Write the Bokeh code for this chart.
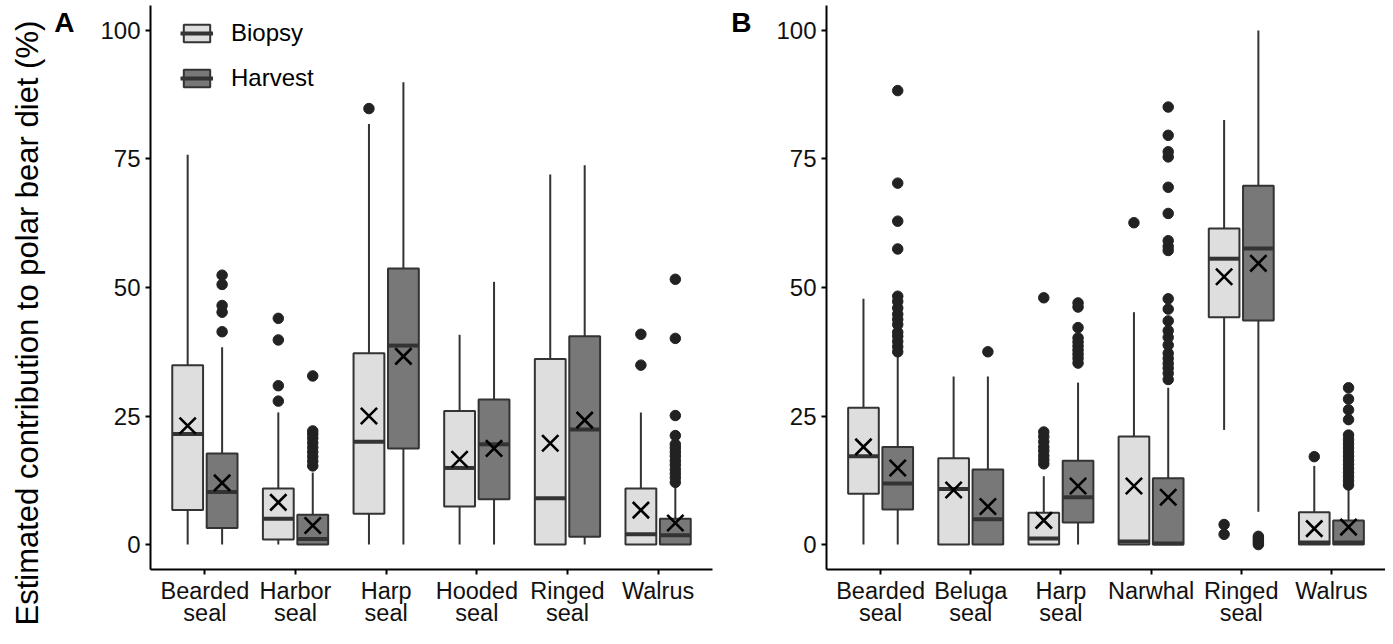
import numpy as np
from bokeh.plotting import figure
from bokeh.layouts import row
from bokeh.models import (ColumnDataSource, FixedTicker, Legend, LegendItem, Range1d,
                          LinearAxis, Title)
from bokeh.embed import file_html
from bokeh.resources import INLINE

FONT = "Liberation Sans"

# ---------------- data: panel A ----------------
cats_a = ["Bearded\nseal", "Harbor\nseal", "Harp\nseal", "Hooded\nseal", "Ringed\nseal", "Walrus"]

a_bio_lo = [0, 0, 0, 0, 0, 0]
a_bio_q1 = [6.7, 1.0, 6.0, 7.4, 0.0, 0.0]
a_bio_med = [21.5, 5.0, 20.0, 14.9, 9.0, 2.0]
a_bio_q3 = [34.9, 10.9, 37.2, 26.0, 36.1, 10.9]
a_bio_hi = [75.8, 25.7, 81.8, 40.8, 72.0, 25.7]
a_bio_mean = [23.1, 8.2, 25.0, 16.6, 19.7, 6.7]
a_bio_out = [[], [27.9, 30.9, 39.8, 44.0], [84.8], [], [], [34.9, 40.9]]

a_har_lo = [0, 0, 0, 0, 0, 0]
a_har_q1 = [3.2, 0.0, 18.7, 8.8, 1.5, 0.0]
a_har_med = [10.2, 1.1, 38.7, 19.5, 22.4, 1.8]
a_har_q3 = [17.7, 5.8, 53.7, 28.2, 40.5, 5.0]
a_har_hi = [38.4, 14.0, 89.9, 51.1, 73.8, 11.3]
a_har_mean = [12.0, 3.7, 36.6, 18.7, 24.2, 4.2]
a_har_out = [[41.4, 45.2, 46.5, 50.6, 52.4],
             [15.3, 16.2, 17.1, 18.0, 18.9, 19.8, 20.7, 21.5, 22.1, 32.8],
             [], [], [],
             [12.1, 13.0, 13.8, 14.6, 15.5, 16.3, 17.2, 18.0, 18.8, 19.5, 21.2, 25.1, 40.1, 51.6]]

# ---------------- data: panel B ----------------
cats_b = ["Bearded\nseal", "Beluga\nseal", "Harp\nseal", "Narwhal", "Ringed\nseal", "Walrus"]

b_bio_lo = [0, 0, 0, 0, 22.3, 0]
b_bio_q1 = [9.9, 0, 0, 0, 44.2, 0]
b_bio_med = [17.2, 10.8, 1.2, 0.6, 55.6, 0.4]
b_bio_q3 = [26.6, 16.8, 6.2, 21.0, 61.5, 6.3]
b_bio_hi = [47.8, 32.7, 13.3, 45.2, 82.6, 15.3]
b_bio_mean = [19.0, 10.6, 4.7, 11.4, 52.1, 3.1]
b_bio_out = [[], [], [15.7, 16.5, 17.3, 18.2, 19.0, 20.0, 21.0, 21.9, 48.0], [62.6], [2.0, 3.9], [17.1]]

b_har_lo = [0, 0, 0, 0, 6.4, 0]
b_har_q1 = [6.8, 0, 4.3, 0, 43.6, 0]
b_har_med = [11.9, 4.9, 9.2, 0.2, 57.6, 0.4]
b_har_q3 = [19.0, 14.6, 16.3, 12.9, 69.8, 4.7]
b_har_hi = [37.2, 32.7, 31.5, 30.5, 100.0, 11.0]
b_har_mean = [14.9, 7.4, 11.4, 9.2, 54.7, 3.4]
b_har_out = [[37.5, 38.5, 39.5, 40.5, 41.3, 42.8, 43.8, 44.8, 46.0, 47.3, 48.3, 57.5, 62.9, 70.3, 88.3],
             [37.5],
             [35.3, 36.2, 37.0, 37.8, 38.6, 39.4, 40.2, 42.2, 46.2, 47.0],
             [32.1, 33.3, 34.3, 35.2, 36.2, 37.2, 38.8, 40.3, 41.6, 43.5, 45.8, 47.8,
              57.2, 58.0, 59.1, 64.4, 69.5, 75.4, 76.4, 79.6, 85.1],
             [0.0, 0.4, 0.8, 1.2, 1.6],
             [11.6, 12.4, 13.2, 14.0, 14.8, 15.6, 16.4, 17.2, 18.0, 18.8, 19.6, 20.4, 21.3,
              24.3, 26.2, 28.3, 30.5]]

y_ticks = [0, 25, 50, 75, 100]
groups = ["Biopsy", "Harvest"]
y_title = "Estimated contribution to polar bear diet (%)"

# ---------------- style ----------------
FILL = {"Biopsy": "#dedede", "Harvest": "#787878"}
EDGE = "#333333"
DODGE = 0.19
BOXW = 0.34
H = 628
FRAME_W = 566
X0, X1 = 0.4, 6.6
Y0, Y1 = -4.85, 104.85
LETTER_Y = 101.6
XLAB = "23.5px"


def draw_series(p, lo, q1, med, q3, hi, mean, outs, offset, group):
    xs = [i + 1 + offset for i in range(len(med))]
    src = ColumnDataSource(dict(x=xs, left=[x - BOXW / 2 for x in xs], right=[x + BOXW / 2 for x in xs],
                                lo=lo, q1=q1, med=med, q3=q3, hi=hi, mean=mean))
    p.segment(x0="x", x1="x", y0="lo", y1="q1", source=src, line_color=EDGE, line_width=2)
    p.segment(x0="x", x1="x", y0="q3", y1="hi", source=src, line_color=EDGE, line_width=2)
    box = p.quad(left="left", right="right", bottom="q1", top="q3", source=src,
                 fill_color=FILL[group], line_color=EDGE, line_width=2)
    medr = p.segment(x0="left", x1="right", y0="med", y1="med", source=src,
                     line_color=EDGE, line_width=4)
    ox, oy = [], []
    for x, vals in zip(xs, outs):
        for v in vals:
            ox.append(x)
            oy.append(v)
    p.scatter(ox, oy, marker="circle", size=10.5, fill_color="#222222", line_color="#222222")
    p.scatter(x="x", y="mean", source=src, marker="x", size=23, line_color="black", line_width=2.6)
    return box, medr


def style_axis(ax, size="24px"):
    ax.axis_line_width = 2
    ax.axis_line_color = "black"
    ax.major_tick_line_width = 2
    ax.major_tick_line_color = "black"
    ax.major_tick_out = 5
    ax.major_tick_in = 0
    ax.minor_tick_out = 0
    ax.minor_tick_in = 0
    ax.major_label_text_font = FONT
    ax.major_label_text_font_size = size
    ax.major_label_text_color = "#111111"


def bare_axis(ax):
    ax.axis_line_color = None
    ax.major_tick_line_color = None
    ax.minor_tick_line_color = None
    ax.major_tick_out = 0
    ax.major_tick_in = 0
    ax.minor_tick_out = 0
    ax.minor_tick_in = 0
    ax.major_label_text_font = FONT


def make_panel(cats, series, width, border_left, letter, letter_standoff):
    p = figure(width=width, height=H, output_backend="svg", toolbar_location=None,
               x_range=Range1d(X0, X1), y_range=Range1d(Y0, Y1),
               min_border_left=border_left, min_border_right=width - border_left - FRAME_W,
               min_border_top=5, min_border_bottom=56)
    p.xgrid.visible = False
    p.ygrid.visible = False
    p.outline_line_color = None
    p.background_fill_color = "white"
    p.border_fill_color = "white"

    ticks = list(range(1, len(cats) + 1))
    line1 = {t: c.split("\n")[0] for t, c in zip(ticks, cats)}
    line2 = {t: (c.split("\n")[1] if "\n" in c else " ") for t, c in zip(ticks, cats)}

    style_axis(p.xaxis[0], XLAB)
    style_axis(p.yaxis[0])
    p.xaxis.ticker = FixedTicker(ticks=ticks)
    p.xaxis.major_label_overrides = line1
    p.xaxis.major_label_standoff = 3
    p.yaxis.ticker = FixedTicker(ticks=y_ticks)
    p.yaxis.major_label_standoff = 5

    # second line of the category labels
    x2 = LinearAxis(ticker=FixedTicker(ticks=ticks), major_label_overrides=line2)
    bare_axis(x2)
    x2.major_label_standoff = -7
    x2.major_label_text_font_size = XLAB
    x2.major_label_text_color = "#111111"
    p.add_layout(x2, "below")

    # panel letter, drawn as the single label of an extra (invisible) axis
    lab = LinearAxis(ticker=FixedTicker(ticks=[LETTER_Y]),
                     major_label_overrides={LETTER_Y: letter})
    bare_axis(lab)
    lab.major_label_standoff = letter_standoff
    lab.major_label_text_font_size = "28px"
    lab.major_label_text_font_style = "bold"
    lab.major_label_text_color = "black"
    p.add_layout(lab, "left")

    handles = {}
    for (group, offset, vals) in series:
        handles[group] = draw_series(p, *vals, offset, group)
    return p, handles


series_a = [("Biopsy", -DODGE, (a_bio_lo, a_bio_q1, a_bio_med, a_bio_q3, a_bio_hi, a_bio_mean, a_bio_out)),
            ("Harvest", DODGE, (a_har_lo, a_har_q1, a_har_med, a_har_q3, a_har_hi, a_har_mean, a_har_out))]
series_b = [("Biopsy", -DODGE, (b_bio_lo, b_bio_q1, b_bio_med, b_bio_q3, b_bio_hi, b_bio_mean, b_bio_out)),
            ("Harvest", DODGE, (b_har_lo, b_har_q1, b_har_med, b_har_q3, b_har_hi, b_har_mean, b_har_out))]

WA = 728
WB = 657
pa, ha = make_panel(cats_a, series_a, WA, 146, "A", 23)
pb, hb = make_panel(cats_b, series_b, WB, 91, "B", 22)

# y-axis title of panel A
pa.add_layout(Title(text=y_title, align="left", offset=-56, vertical_align="bottom",
                    text_font=FONT, text_font_size="31px", text_font_style="normal",
                    text_color="black", standoff=14), "left")

legend = Legend(items=[LegendItem(label=g, renderers=list(ha[g])) for g in groups],
                location=(30, 477), orientation="vertical",
                glyph_width=33, glyph_height=22, label_height=22, spacing=17,
                label_standoff=18, padding=0, margin=0,
                border_line_color=None, background_fill_alpha=0,
                label_text_font=FONT, label_text_font_size="24px", label_text_color="black")
pa.add_layout(legend)

layout = row(pa, pb)
open("out.html", "w").write(file_html(layout, INLINE))
